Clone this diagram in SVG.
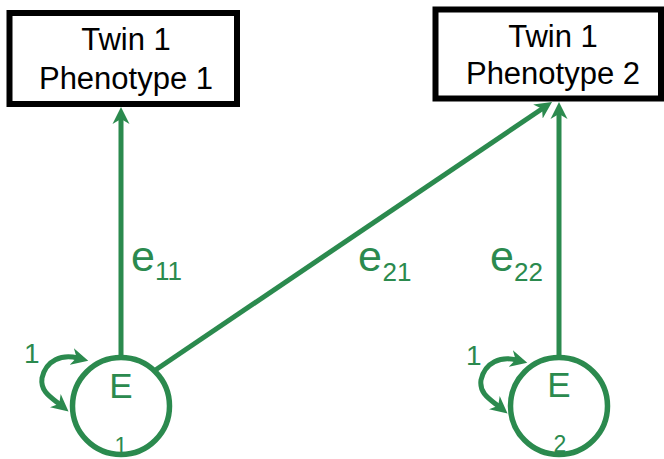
<svg xmlns="http://www.w3.org/2000/svg" width="664" height="459" viewBox="0 0 664 459">
<style>
.box{fill:#fff;stroke:#000;stroke-width:6}
.bt{font-family:"Liberation Sans",Arial,sans-serif;font-size:31px;fill:#000;text-anchor:middle}
.g{fill:#2b8a4e;font-family:"Liberation Sans",Arial,sans-serif}
.ln{stroke:#2b8a4e;stroke-width:5;fill:none}
.circ{fill:#fff;stroke:#2b8a4e;stroke-width:5.5}
</style>
<defs>
<marker id="ah" markerUnits="userSpaceOnUse" viewBox="0 -9 18 18" markerWidth="18" markerHeight="18" refX="6" refY="0" orient="auto">
<path d="M0,-8.5 L17,0 L0,8.5 L5,0 z" fill="#2b8a4e"/>
</marker>
<marker id="ahs" markerUnits="userSpaceOnUse" viewBox="0 -9 18 18" markerWidth="18" markerHeight="18" refX="6" refY="0" orient="auto-start-reverse">
<path d="M0,-8.5 L17,0 L0,8.5 L5,0 z" fill="#2b8a4e"/>
</marker>
</defs>
<rect width="664" height="459" fill="#fff"/>
<g id="connectors">
<line class="ln" x1="121" y1="357" x2="121" y2="118" marker-end="url(#ah)"/>
<line class="ln" x1="559" y1="357" x2="559" y2="113" marker-end="url(#ah)"/>
<line class="ln" x1="154" y1="371" x2="542.9" y2="108.2" marker-end="url(#ah)"/>
<path class="ln" d="M77.6,358 C62,354 46,360 42,378 C40,392 52,398 60,404.5" marker-start="url(#ahs)" marker-end="url(#ah)"/>
<path class="ln" transform="translate(439,2)" d="M77.6,358 C62,354 46,360 42,378 C40,392 52,398 60,404.5" marker-start="url(#ahs)" marker-end="url(#ah)"/>
<text class="g" x="24" y="363" font-size="28">1</text>
<text class="g" x="466" y="365" font-size="28">1</text>
<text class="g" x="131" y="271" font-size="43">e</text>
<text class="g" x="155" y="280" font-size="26">11</text>
<text class="g" x="358" y="271" font-size="43">e</text>
<text class="g" x="382.5" y="281" font-size="26">21</text>
<text class="g" x="490" y="271" font-size="43">e</text>
<text class="g" x="514" y="281" font-size="26">22</text>
</g>
<g id="twin1-phenotype1">
<rect class="box" x="9.5" y="13" width="227.5" height="91"/>
<text class="bt" x="126" y="50">Twin 1</text>
<text class="bt" x="126" y="89">Phenotype 1</text>
</g>
<g id="twin1-phenotype2">
<rect class="box" x="435.5" y="9.5" width="225.5" height="89"/>
<text class="bt" x="553" y="46.5">Twin 1</text>
<text class="bt" x="553" y="83.5">Phenotype 2</text>
</g>
<g id="E1">
<circle class="circ" cx="121" cy="406" r="48.5"/>
<text class="g" x="121" y="398" font-size="35" text-anchor="middle">E</text>
<text class="g" x="121" y="454" font-size="23" text-anchor="middle">1</text>
</g>
<g id="E2">
<circle class="circ" cx="559" cy="406" r="48.5"/>
<text class="g" x="559" y="397" font-size="35" text-anchor="middle">E</text>
<text class="g" x="560" y="452" font-size="23" text-anchor="middle">2</text>
</g>
</svg>
